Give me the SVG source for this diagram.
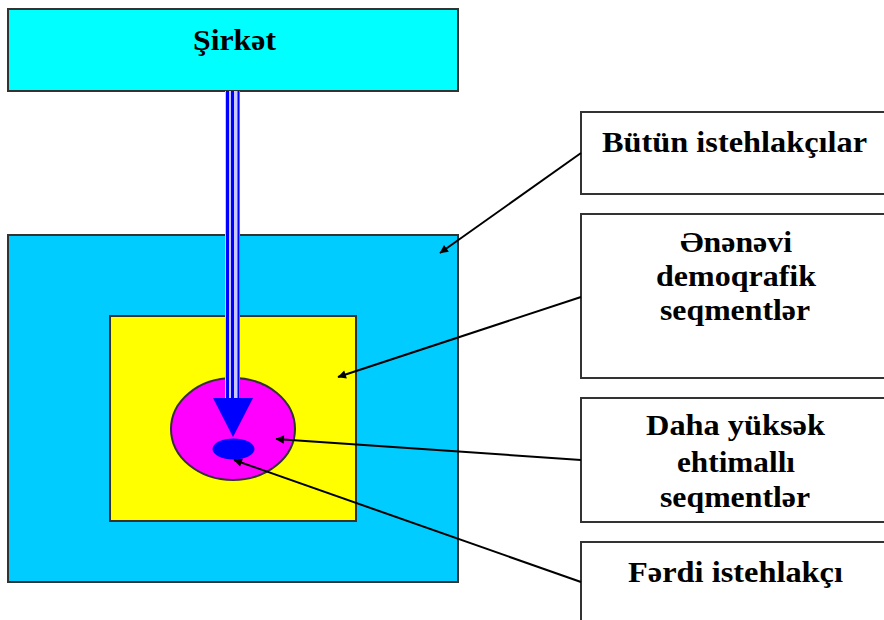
<svg xmlns="http://www.w3.org/2000/svg" width="884" height="620" viewBox="0 0 884 620">
<style>
.box{stroke:#333;stroke-width:2}
.lbl{fill:#fff;stroke:#333;stroke-width:2}
.t{font-family:"Liberation Serif","Times New Roman","DejaVu Serif",serif;font-weight:bold;font-size:29px;fill:#000;text-anchor:middle}
.conn{stroke:#000;stroke-width:2;fill:none;marker-end:url(#ah)}
.shaft{stroke:#0000ff;fill:none}
</style>
<defs>
<marker id="ah" viewBox="0 0 10 10" refX="9" refY="5" markerWidth="6" markerHeight="6" markerUnits="userSpaceOnUse" orient="auto" overflow="visible">
<path d="M0,0 L10,5 L0,10 z" fill="#000" transform="scale(1.4) translate(-3,-1.4)"/>
</marker>
</defs>
<g id="company">
<rect class="box" x="8" y="9" width="450" height="82" fill="#00ffff"/>
<text class="t" x="234.5" y="50" textLength="83" lengthAdjust="spacingAndGlyphs">Şirkət</text>
</g>
<g id="all-consumers-area">
<rect class="box" x="8" y="235" width="450" height="347" fill="#00ccff"/>
</g>
<g id="demographic-area">
<rect class="box" x="110" y="316" width="246" height="205" fill="#ffff00"/>
</g>
<g id="probable-area">
<ellipse cx="233" cy="429" rx="62" ry="51" fill="#ff00ff" stroke="#333" stroke-width="2"/>
</g>
<g id="individual-area">
<ellipse cx="233.5" cy="449" rx="21" ry="10.5" fill="#0000ff"/>
</g>
<g id="label-all">
<rect class="lbl" x="581" y="112" width="310" height="82"/>
<text class="t" x="734.5" y="152" textLength="265" lengthAdjust="spacingAndGlyphs">Bütün istehlakçılar</text>
</g>
<g id="label-demographic">
<rect class="lbl" x="581" y="214" width="310" height="164"/>
<text class="t" x="736" y="252" textLength="112" lengthAdjust="spacingAndGlyphs">Ənənəvi</text>
<text class="t" x="736" y="286" textLength="160" lengthAdjust="spacingAndGlyphs">demoqrafik</text>
<text class="t" x="735" y="320" textLength="150" lengthAdjust="spacingAndGlyphs">seqmentlər</text>
</g>
<g id="label-probable">
<rect class="lbl" x="581" y="398" width="310" height="124"/>
<text class="t" x="735.5" y="435" textLength="179" lengthAdjust="spacingAndGlyphs">Daha yüksək</text>
<text class="t" x="736" y="472" textLength="118" lengthAdjust="spacingAndGlyphs">ehtimallı</text>
<text class="t" x="735" y="507" textLength="150" lengthAdjust="spacingAndGlyphs">seqmentlər</text>
</g>
<g id="label-individual">
<rect class="lbl" x="581" y="542" width="310" height="90"/>
<text class="t" x="735.5" y="582" textLength="215" lengthAdjust="spacingAndGlyphs">Fərdi istehlakçı</text>
</g>
<g id="connectors">
<g id="company-arrow">
<rect x="225" y="91" width="15" height="307" fill="#c8c8ff"/>
<line class="shaft" x1="227.5" y1="91" x2="227.5" y2="400" stroke-width="3"/>
<line class="shaft" x1="232.5" y1="91" x2="232.5" y2="400" stroke-width="3"/>
<line class="shaft" x1="238.5" y1="91" x2="238.5" y2="400" stroke-width="2"/>
<polygon points="213,398 253,398 233,437" fill="#0000ff"/>
</g>
<line class="conn" x1="581" y1="153" x2="440" y2="253"/>
<line class="conn" x1="581" y1="297" x2="338" y2="377"/>
<line class="conn" x1="581" y1="460" x2="276" y2="439"/>
<line class="conn" x1="581" y1="582" x2="234" y2="460"/>
</g>
</svg>
